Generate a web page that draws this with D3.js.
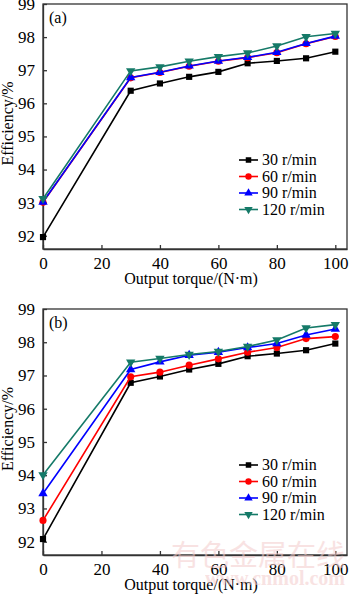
<!DOCTYPE html>
<html>
<head>
<meta charset="utf-8">
<script src="https://cdn.jsdelivr.net/npm/d3@7"></script>
<style>
  body { margin: 0; background: #fff; }
  text { font-family: "Liberation Serif", "Times New Roman", serif; }
</style>
</head>
<body>
<script>
// torque points (N·m)
const torque = [0, 30, 40, 50, 60, 70, 80, 90, 100];
const speeds = ["30 r/min", "60 r/min", "90 r/min", "120 r/min"];

// panel (a) efficiency, %
const a30  = [91.96, 96.38, 96.60, 96.80, 96.95, 97.21, 97.28, 97.36, 97.56];
const a60  = [93.01, 96.77, 96.93, 97.12, 97.27, 97.38, 97.53, 97.80, 98.02];
const a90  = [93.02, 96.78, 96.94, 97.13, 97.28, 97.39, 97.54, 97.81, 98.03];
const a120 = [93.12, 96.98, 97.10, 97.27, 97.41, 97.52, 97.73, 98.01, 98.11];

// panel (b) efficiency, %
const b30  = [92.08, 96.78, 96.97, 97.18, 97.35, 97.58, 97.66, 97.76, 97.96];
const b60  = [92.64, 96.96, 97.10, 97.31, 97.50, 97.70, 97.84, 98.11, 98.17];
const b90  = [93.45, 97.18, 97.41, 97.61, 97.70, 97.84, 97.96, 98.22, 98.40];
const b120 = [94.01, 97.40, 97.51, 97.63, 97.72, 97.87, 98.07, 98.43, 98.53];

const xTicks = [0, 20, 40, 60, 80, 100];
const yTicks = [92, 93, 94, 95, 96, 97, 98, 99];

const colors = ["#000000", "#ff0000", "#0000ff", "#157a68"];
const shapes = [d3.symbolSquare, d3.symbolCircle, d3.symbolTriangle, d3.symbolTriangle];
const symSize = [38, 40, 38, 38];

const W = 350, H = 595;
const svg = d3.select("body").append("svg")
    .attr("width", W).attr("height", H);

function panel(label, series, top, bottom, legendTop) {
  const left = 43, right = 347;
  const x = d3.scaleLinear().domain([0, 104]).range([left, right]);
  const y = d3.scaleLinear().domain([91.6, 99]).range([bottom, top]);
  const g = svg.append("g");

  // frame
  g.append("rect")
      .attr("x", left).attr("y", top)
      .attr("width", right - left).attr("height", bottom - top)
      .attr("fill", "none").attr("stroke", "#333").attr("stroke-width", 1.3);

  const xa = g.append("g")
      .attr("transform", "translate(0," + bottom + ")")
      .call(d3.axisBottom(x).tickValues(xTicks).tickSizeInner(-4).tickSizeOuter(0).tickPadding(8));
  const ya = g.append("g")
      .attr("transform", "translate(" + left + ",0)")
      .call(d3.axisLeft(y).tickValues(yTicks).tickSizeInner(-4).tickSizeOuter(0).tickPadding(8));
  [xa, ya].forEach(a => {
    a.select(".domain").attr("stroke", "#333").attr("stroke-width", 1.3);
    a.selectAll(".tick line").attr("stroke", "#333").attr("stroke-width", 1.3);
    a.selectAll("text").attr("font-size", 17).attr("fill", "#000")
        .style("font-family", "'Liberation Serif', serif");
  });

  const line = d3.line()
      .x((d, i) => x(torque[i]))
      .y(d => y(d));

  series.forEach((s, k) => {
    g.append("path")
        .datum(s)
        .attr("d", line)
        .attr("fill", "none")
        .attr("stroke", colors[k])
        .attr("stroke-width", 1.6);
    g.selectAll(".m" + k)
      .data(s)
      .enter().append("path")
        .attr("class", "m" + k)
        .attr("d", d3.symbol().type(shapes[k]).size(symSize[k]))
        .attr("fill", colors[k])
        .attr("transform", (d, i) => "translate(" + x(torque[i]) + "," + y(d) + ")" + (k === 3 ? " rotate(180)" : ""));
  });

  // legend
  const lg = g.append("g");
  speeds.forEach((name, k) => {
    const yy = legendTop + k * 16.5;
    lg.append("line")
        .attr("x1", 239).attr("x2", 258).attr("y1", yy).attr("y2", yy)
        .attr("stroke", colors[k]).attr("stroke-width", 1.6);
    lg.append("path")
        .attr("d", d3.symbol().type(shapes[k]).size(symSize[k] * 0.8))
        .attr("fill", colors[k])
        .attr("transform", "translate(248.5," + yy + ")" + (k === 3 ? " rotate(180)" : ""));
    lg.append("text")
        .attr("x", 262).attr("y", yy).attr("dy", "0.33em")
        .attr("font-size", 16)
        .text(name);
  });

  g.append("text")
      .attr("x", 49).attr("y", top + 19)
      .attr("font-size", 16)
      .text(label);

  g.append("text")
      .attr("x", 191).attr("y", bottom + 35)
      .attr("text-anchor", "middle")
      .attr("font-size", 16)
      .text("Output torque/(N·m)");

  g.append("text")
      .attr("transform", "translate(13," + ((top + bottom) / 2 - 3) + ") rotate(-90)")
      .attr("text-anchor", "middle")
      .attr("font-size", 16)
      .text("Efficiency/%");
}

panel("(a)", [a30, a60, a90, a120], 4, 249, 160);
panel("(b)", [b30, b60, b90, b120], 309, 555, 465);

// source watermark
svg.append("text")
    .attr("x", 345).attr("y", 566)
    .attr("text-anchor", "end")
    .attr("font-size", 29)
    .attr("fill", "#f4cccc").attr("opacity", 0.55)
    .style("font-family", "'Noto Sans CJK SC', sans-serif")
    .text("有色金属在线");
svg.append("text")
    .attr("x", 345).attr("y", 585)
    .attr("text-anchor", "end")
    .attr("font-size", 20)
    .attr("font-weight", "bold")
    .attr("fill", "#f4cccc").attr("opacity", 0.55)
    .text("www.cnmol.com");
</script>
</body>
</html>
